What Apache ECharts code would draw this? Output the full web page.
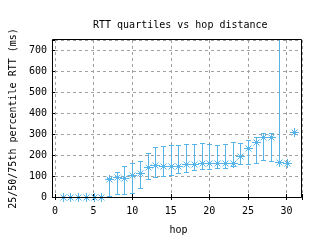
<!DOCTYPE html>
<html>
<head>
<meta charset="utf-8">
<script src="https://cdn.jsdelivr.net/npm/echarts@6/dist/echarts.min.js"></script>
<style>
html,body{margin:0;padding:0;background:#fff;}
#chart{width:320px;height:240px;}
</style>
</head>
<body>
<div id="chart"></div>
<script>
// RTT quartiles per hop (ms)
var hops   = [1, 2, 3, 4, 5, 6, 7, 8, 9, 10, 11, 12, 13, 14, 15, 16, 17, 18, 19, 20, 21, 22, 23, 24, 25, 26, 27, 28, 29, 30, 31];
var q1     = [0.5, 0.5, 0.5, 0.5, 0.5, 0.5, 5, 13, 13, 19, 41, 88, 94, 101, 104, 113, 120, 129, 135, 135, 139, 139, 148, 158, 158, 164, 177, 172, 169, 164, 309];
var median = [0.5, 0.5, 0.5, 0.5, 0.5, 0.5, 85, 96, 90, 107, 113, 142, 151, 148, 148, 150, 156, 156, 164, 164, 164, 164, 162, 196, 235, 263, 285, 285, 169, 164, 309];
var q3     = [1, 1, 1, 1, 1, 1, 90, 120, 148, 164, 173, 211, 240, 244, 247, 247, 254, 254, 258, 254, 248, 254, 263, 258, 274, 287, 306, 306, 2000, 164, 309];
var xTicks = [0, 5, 10, 15, 20, 25, 30];

var FONT = 'DejaVu Sans Mono';
var COLOR = '#56b4e9';
var GRIDC = '#a0a0a0';

var rows = hops.map(function (h, i) { return [h, q1[i], median[i], q3[i]]; });

var chart = echarts.init(document.getElementById('chart'), null, {renderer: 'canvas'});

var labelStyle = {fontFamily: FONT, fontSize: 10, color: '#000'};
var splitStyle = {show: true, lineStyle: {color: GRIDC, type: [3, 3], width: 1}};

chart.setOption({
  animation: false,
  title: {
    text: 'RTT quartiles vs hop distance',
    left: 88, top: 15,
    textStyle: {fontFamily: FONT, fontSize: 10, fontWeight: 'normal', color: '#000'}
  },
  grid: {left: 52, right: 18, top: 40, bottom: 42},
  xAxis: [{
    type: 'value', min: 0, max: 32, interval: 5, position: 'bottom',
    name: 'hop', nameLocation: 'middle', nameGap: 28,
    nameTextStyle: labelStyle,
    axisLine: {show: false},
    axisTick: {show: true, inside: true, length: 3, lineStyle: {color: '#000'}},
    axisLabel: {
      fontFamily: FONT, fontSize: 10, color: '#000', margin: 9,
      formatter: function (v) { return xTicks.indexOf(v) >= 0 ? String(v) : ''; }
    },
    splitLine: splitStyle
  }, {
    type: 'value', min: 0, max: 32, interval: 5, position: 'top',
    axisLine: {show: false},
    axisTick: {show: true, inside: true, length: 3, lineStyle: {color: '#000'}},
    axisLabel: {show: false},
    splitLine: {show: false}
  }],
  yAxis: [{
    type: 'value', min: 0, max: 750, interval: 100, position: 'left',
    name: '25/50/75th percentile RTT (ms)', nameLocation: 'middle', nameGap: 36,
    nameTextStyle: labelStyle,
    axisLine: {show: false},
    axisTick: {show: true, length: 3, lineStyle: {color: '#000'}},
    axisLabel: {
      fontFamily: FONT, fontSize: 10, color: '#000', margin: 8,
      formatter: function (v) { return v > 700 ? '' : String(v); }
    },
    splitLine: splitStyle
  }, {
    type: 'value', min: 0, max: 750, interval: 100, position: 'right',
    axisLine: {show: false},
    axisTick: {show: true, inside: true, length: 3, lineStyle: {color: '#000'}},
    axisLabel: {show: false},
    splitLine: {show: false}
  }],
  series: [{
    type: 'custom',
    clip: false,
    data: rows,
    encode: {x: 0, y: [1, 2, 3]},
    renderItem: function (params, api) {
      var x = api.value(0);
      var top = params.coordSys.y;
      var lo = api.coord([x, api.value(1)]);
      var md = api.coord([x, api.value(2)]);
      var hi = api.coord([x, api.value(3)]);
      var cx = Math.round(md[0]), cy = Math.round(md[1]);
      var ylo = Math.round(lo[1]), yhi = Math.round(Math.max(hi[1], top));
      var cap = 2, r = 3;
      var fillSt = {fill: COLOR};
      var st = {stroke: COLOR, lineWidth: 1, fill: null};
      var kids = [];
      if (ylo - yhi > 1) {
        kids.push({type: 'rect', shape: {x: cx, y: yhi, width: 1, height: ylo - yhi + 1}, style: fillSt});
        kids.push({type: 'rect', shape: {x: cx - cap, y: ylo, width: 2 * cap + 1, height: 1}, style: fillSt});
        if (hi[1] > top) {
          kids.push({type: 'rect', shape: {x: cx - cap, y: yhi, width: 2 * cap + 1, height: 1}, style: fillSt});
        }
      }
      // asterisk marker
      kids.push({type: 'rect', shape: {x: cx - r - 1, y: cy, width: 2 * r + 3, height: 1}, style: fillSt});
      kids.push({type: 'rect', shape: {x: cx, y: cy - r - 1, width: 1, height: 2 * r + 3}, style: fillSt});
      kids.push({type: 'line', shape: {x1: cx - r + 0.5, y1: cy - r + 0.5, x2: cx + r + 0.5, y2: cy + r + 0.5}, style: st});
      kids.push({type: 'line', shape: {x1: cx - r + 0.5, y1: cy + r + 0.5, x2: cx + r + 0.5, y2: cy - r + 0.5}, style: st});
      return {type: 'group', children: kids};
    }
  }],
  graphic: [{
    type: 'rect', silent: true, z: 100,
    shape: {x: 52.5, y: 39.5, width: 249, height: 158},
    style: {fill: null, stroke: '#000', lineWidth: 1}
  }]
});
</script>
</body>
</html>
